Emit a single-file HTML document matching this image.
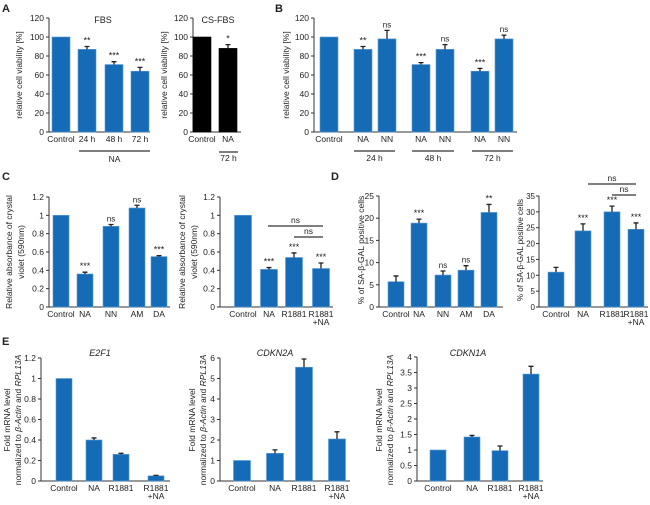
<!DOCTYPE html>
<html><head><meta charset="utf-8"><style>
html,body{margin:0;padding:0;background:#fff}
svg{display:block;font-family:"Liberation Sans",Arial,sans-serif}
</style></head><body>
<svg id="fig" width="650" height="505" viewBox="0 0 650 505"></svg>
<script>
// ---- data ----
const a1Cats=["Control","24 h","48 h","72 h"];
const a1Vals=[100,87,71,64];
const a1Errs=[0,3,3,4];
const a1Sig=["","**","***","***"];
const a2Cats=["Control","NA"];
const a2Vals=[100,88];
const a2Errs=[0,4];
const a2Sig=["","*"];
const bCats=["Control","NA","NN","NA","NN","NA","NN"];
const bVals=[100,87,98,71,87,64,98];
const bErrs=[0,3,9,2,5,3,4];
const bSig=["","**","ns","***","ns","***","ns"];
const c1Cats=["Control","NA","NN","AM","DA"];
const c1Vals=[1,0.36,0.88,1.08,0.55];
const c1Errs=[0,0.02,0.02,0.03,0.01];
const c1Sig=["","***","ns","ns","***"];
const c2Cats=["Control","NA","R1881","R1881|+NA"];
const c2Vals=[1,0.41,0.54,0.42];
const c2Errs=[0,0.02,0.05,0.06];
const c2Sig=["","***","***","***"];
const d1Cats=["Control","NA","NN","AM","DA"];
const d1Vals=[5.7,18.9,7.2,8.3,21.3];
const d1Errs=[1.3,0.9,0.9,1.0,1.8];
const d1Sig=["","***","ns","ns","**"];
const d2Cats=["Control","NA","R1881","R1881|+NA"];
const d2Vals=[11,24,30,24.5];
const d2Errs=[1.5,2.2,1.8,2.0];
const d2Sig=["","***","***","***"];
const e1Cats=["Control","NA","R1881","R1881|+NA"];
const e1Vals=[1,0.40,0.26,0.05];
const e1Errs=[0,0.02,0.01,0.005];
const e2Cats=["Control","NA","R1881","R1881|+NA"];
const e2Vals=[1,1.35,5.55,2.05];
const e2Errs=[0,0.17,0.4,0.35];
const e3Cats=["Control","NA","R1881","R1881|+NA"];
const e3Vals=[1,1.42,0.98,3.45];
const e3Errs=[0,0.05,0.15,0.25];
const ticksPct=[0,20,40,60,80,100,120];
const ticks12=[0,0.2,0.4,0.6,0.8,1,1.2];
const ticks25=[0,5,10,15,20,25];
const ticks35=[0,5,10,15,20,25,30,35];
const ticks6=[0,1,2,3,4,5,6];
const ticks4=[0,0.5,1,1.5,2,2.5,3,3.5,4];

const NS="http://www.w3.org/2000/svg";
const svg=document.getElementById('fig');
function mk(tag,attrs,parent){const e=document.createElementNS(NS,tag);for(const k in attrs)e.setAttribute(k,attrs[k]);(parent||svg).appendChild(e);return e;}
function txt(s,x,y,size,anchor,parent,extra){const t=mk('text',Object.assign({x:x,y:y,'font-size':size,'text-anchor':anchor||'middle',fill:'#222'},extra||{}),parent);t.textContent=s;return t;}

function panel(name,o){
  const g=mk('g',{});
  
  
  const max=o.ticks[o.ticks.length-1];
  const y=v=>o.y0-(o.y0-o.yTop)*v/max;
  const ax=mk('path',{d:`M${o.ax} ${o.yTop}V${o.y0}H${o.axEnd}`,stroke:'#333','stroke-width':1,fill:'none'},g);
  
  
  const tg=o.tickGap||5;
  o.ticks.forEach(t=>{
    mk('line',{x1:o.ax-3,x2:o.ax,y1:y(t),y2:y(t),stroke:'#333'},g);
    const l=txt(String(t),o.ax-tg,y(t)+3,o.tickSize||8.5,'end',g);
    
    
  });
  o.vals.forEach((v,i)=>{
    const cx=o.cx[i],w=o.bw;
    const r=mk('rect',{x:cx-w/2,y:y(v),width:w,height:o.y0-y(v),fill:o.color||'#156bb5',stroke:o.color?'#000':'#5a9bd6','stroke-width':0.6},g);
    
    
    const e=o.errs[i];
    if(e>0){
      mk('path',{d:`M${cx} ${y(v)}V${y(v+e)}M${cx-2.5} ${y(v+e)}H${cx+2.5}`,stroke:'#222','stroke-width':1.3,fill:'none'},g);
    }
    if(o.sig&&o.sig[i]){
      const s=txt(o.sig[i],cx,y(v+e)-3,o.sig[i]=='ns'?8:9,'middle',g);
      
      
    }
    const parts=o.cats[i].split('|');
    parts.forEach((p,j)=>{
      const c=txt(p,cx,o.y0+10+j*8,8.5,'middle',g);
      
      
    });
  });
  if(o.title){const t=txt(o.title,o.titleX,o.titleY,9,'middle',g,o.italic?{'font-style':'italic'}:{});}
  o.ylab.forEach((l,j)=>{
    const t=mk('text',{x:0,y:0,'font-size':l.size||8.5,'text-anchor':'middle',fill:'#222',transform:`translate(${l.x},${l.y}) rotate(-90)`},g);
    t.innerHTML=l.html;
    
    
  });
  (o.brackets||[]).forEach(b=>{
    mk('line',{x1:b[0],x2:b[1],y1:b[2],y2:b[2],stroke:'#333','stroke-width':1.3},g);
    const t=txt(b[3],(b[0]+b[1])/2,b[2]+(b[4]||-3),8.5,'middle',g);
    
    
  });
}

panel('panel-a-fbs',{cats:a1Cats,vals:a1Vals,errs:a1Errs,sig:a1Sig,ticks:ticksPct,ax:49,axEnd:150,y0:132,yTop:18,cx:[61,87,114,140],bw:18,title:'FBS',titleX:103,titleY:23,
  ylab:[{x:22,y:75,html:'relative cell viability [%]'}],brackets:[[79,150,151,'NA',11]]});
panel('panel-a-csfbs',{cats:a2Cats,vals:a2Vals,errs:a2Errs,sig:a2Sig,ticks:ticksPct,ax:193,axEnd:241,y0:132,yTop:18,cx:[202,228],bw:18,color:'#000',title:'CS-FBS',titleX:218,titleY:23,
  ylab:[{x:167,y:75,html:'relative cell viability [%]'}],brackets:[[219,238,152,'72 h',9]]});
panel('panel-b',{cats:bCats,vals:bVals,errs:bErrs,sig:bSig,ticks:ticksPct,ax:314,axEnd:517,y0:132,yTop:18,cx:[329,363,387,421,445,480,504],bw:18,
  ylab:[{x:289,y:75,html:'relative cell viability [%]'}],brackets:[[354,395,151,'24 h',10],[412,454,151,'48 h',10],[472,513,151,'72 h',10]]});
panel('panel-c-left',{cats:c1Cats,vals:c1Vals,errs:c1Errs,sig:c1Sig,ticks:ticks12,ax:49,axEnd:170,y0:307,yTop:197,cx:[61,85,111,137,159],bw:16,
  ylab:[{x:12,y:252,html:'Relative absorbance of crystal'},{x:24,y:252,html:'violet (590nm)'}]});
panel('panel-c-right',{cats:c2Cats,vals:c2Vals,errs:c2Errs,sig:c2Sig,ticks:ticks12,ax:220,axEnd:333,y0:307,yTop:197,cx:[243,269,294,321],bw:17,
  ylab:[{x:185,y:252,html:'Relative absorbance of crystal'},{x:197,y:252,html:'violet (590nm)'}],brackets:[[268,323,226,'ns'],[294,323,237,'ns']]});
panel('panel-d-left',{cats:d1Cats,vals:d1Vals,errs:d1Errs,sig:d1Sig,ticks:ticks25,ax:379,axEnd:503,y0:307,yTop:196,cx:[396,419,443,466,489],bw:16,
  ylab:[{x:364,y:250,html:'% of SA-β-GAL positive cells'}]});
panel('panel-d-right',{cats:d2Cats,vals:d2Vals,errs:d2Errs,sig:d2Sig,ticks:ticks35,ax:539,axEnd:648,y0:307,yTop:196,cx:[556,583,612,636],bw:16,tickGap:4,tickSize:8,
  ylab:[{x:523,y:250,html:'% of SA-β-GAL positive cells',size:8}],brackets:[[588,636,184,'ns'],[612,636,195,'ns']]});
const eLab=(x)=>[{x:x,y:420,html:'Fold mRNA level'},{x:x+11,y:420,html:'normalized to <tspan font-style="italic">β-Actin</tspan> and <tspan font-style="italic">RPL13A</tspan>'}];
panel('panel-e-e2f1',{cats:e1Cats,vals:e1Vals,errs:e1Errs,ticks:ticks12,ax:41,axEnd:170,y0:481,yTop:358,cx:[64,94,121,156],bw:16,title:'E2F1',titleX:100,titleY:356,italic:true,ylab:eLab(10)});
panel('panel-e-cdkn2a',{cats:e2Cats,vals:e2Vals,errs:e2Errs,ticks:ticks6,ax:220,axEnd:350,y0:481,yTop:358,cx:[242,275,304,337],bw:17,title:'CDKN2A',titleX:275,titleY:356,italic:true,ylab:eLab(195)});
panel('panel-e-cdkn1a',{cats:e3Cats,vals:e3Vals,errs:e3Errs,ticks:ticks4,ax:417,axEnd:543,y0:481,yTop:357,cx:[438,472,500,531],bw:16,title:'CDKN1A',titleX:468,titleY:356,italic:true,ylab:eLab(382)});

[['A',2,12],['B',275,12],['C',2,180],['D',331,180],['E',2,345]].forEach(p=>{
  const t=txt(p[0],p[1],p[2],11,'start',svg,{'font-weight':'bold'});
  
  
});
</script>
</body></html>
